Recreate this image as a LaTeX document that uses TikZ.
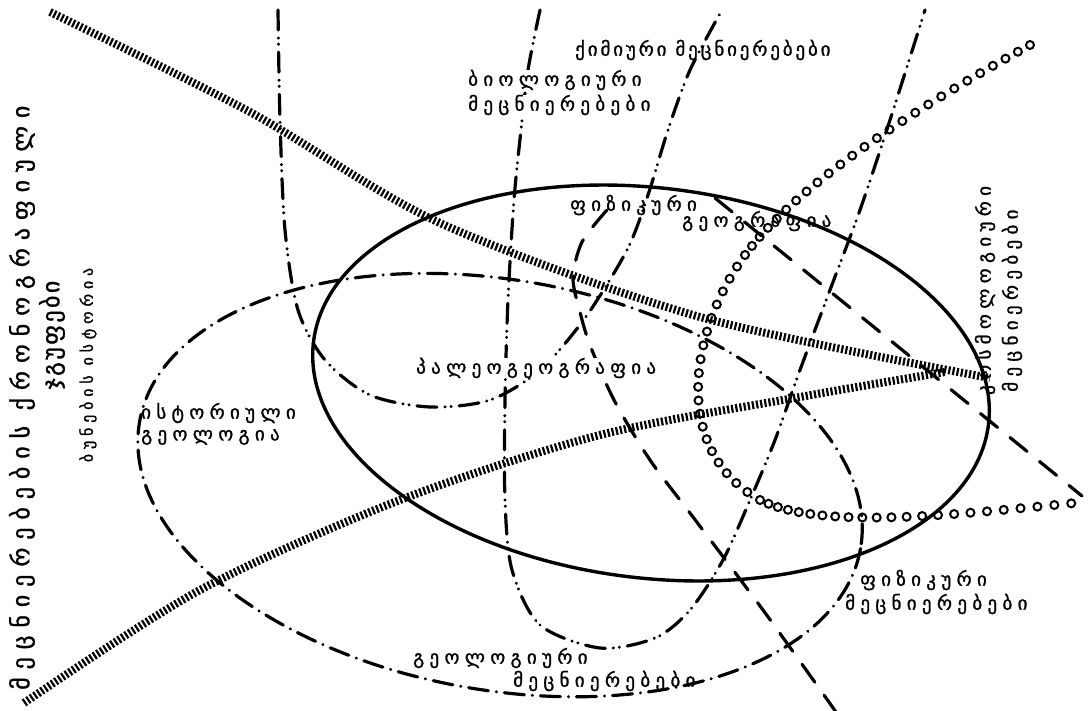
\documentclass[tikz,border=0pt]{standalone}
\usepackage{fontspec}
\newfontfamily\geo[LetterSpace=28,FakeBold=1.2]{DejaVu Sans}
\newfontfamily\geochem[LetterSpace=15,FakeBold=1.2]{DejaVu Sans}
\newfontfamily\geosmall[LetterSpace=30,FakeBold=1.2]{DejaVu Sans}
\newfontfamily\geobig[LetterSpace=33,FakeBold=1.2]{DejaVu Sans}
\newfontfamily\geotight[LetterSpace=10,FakeBold=1.2]{DejaVu Sans}
\tikzset{
  lbl/.style={font=\geo\fontsize{19}{21}\selectfont, inner sep=0pt, anchor=west},
  solidline/.style={line width=3.4pt},
  dashdot/.style={line width=3.2pt, line cap=round, dash pattern=on 20pt off 8pt on 0.1pt off 8pt},
  dashdotdot/.style={line width=3.2pt, line cap=round, dash pattern=on 20pt off 8pt on 0.1pt off 6pt on 0.1pt off 8pt},
  longdash/.style={line width=3.2pt, line cap=round, dash pattern=on 22pt off 16pt},
  rope/.style={line width=8pt, dash pattern=on 2.2pt off 2pt},
  circ/.style={circle, draw, line width=2pt, minimum size=8pt, inner sep=0pt}
}
\begin{document}
\begin{tikzpicture}[x=1pt,y=-1pt]
\useasboundingbox (0,0) rectangle (1088,711);
\fill[white] (0,0) rectangle (1088,711);
% ellipses
\coordinate (cg) at (651,383);
\draw[solidline, rotate around={-7:(cg)}] (cg) ellipse [x radius=340, y radius=195];
\coordinate (cgeo) at (500,485);
\draw[dashdot, rotate around={-10:(cgeo)}] (cgeo) ellipse [x radius=366, y radius=205];
% rope lines
\draw[rope] plot[smooth] coordinates {(50,12) (250,112) (440,223) (700,317) (990,378)};
\draw[rope] plot[smooth] coordinates {(24,703) (200,590) (400,500) (600,435) (800,397) (945,372)};
% circle line
\coordinate (c0) at (1030,45);
\coordinate (c1) at (745,255);
\coordinate (c2) at (760,500);
\coordinate (c3) at (1075,503);
\path (c0) .. controls (930,100) and (800,180) .. (c1)
  \foreach \p in {0,0.04,...,0.97} {node[circ,pos=\p]{}};
\path (c1) .. controls (690,330) and (670,450) .. (c2)
  \foreach \p in {0,0.05,...,0.97} {node[circ,pos=\p]{}};
\path (c2) .. controls (820,530) and (950,515) .. (c3)
  \foreach \p in {0,0.045,...,1.01} {node[circ,pos=\p]{}};
% biological U
\draw[dashdotdot] plot[smooth] coordinates {(278,10) (280,120) (285,230) (298,310) (325,360) (370,395) (430,407) (490,400) (540,370) (585,318) (627,250) (648,195) (668,130) (690,70) (722,10)};
% chemical U
\draw[dashdotdot] plot[smooth] coordinates {(540,10) (528,70) (521,130) (514,200) (508,300) (505,400) (505,500) (512,570) (540,625) (600,648) (655,638) (690,610) (723,560) (750,500) (775,440) (800,370) (830,290) (860,210) (890,120) (925,10)};
% physical dashed
\coordinate (pa) at (715,198);
\coordinate (pb) at (1082,496);
\draw[longdash] (pa) -- (pb);
\draw[longdash] plot[smooth] coordinates {(607,210) (582,242) (573,278) (580,312) (590,345) (614,400) (650,460) (693,517) (763,610) (836,712)};
% labels
\node[lbl, font=\geochem\fontsize{19}{21}\selectfont] (chem) at (575,50) {ქიმიური მეცნიერებები};
\node[lbl, fill=white] (bio1) at (468,80) {ბიოლოგიური};
\node[lbl, fill=white] (bio2) at (468,105) {მეცნიერებები};
\node[lbl] (fg1) at (570,205) {ფიზიკური};
\node[lbl] (fg2) at (682,221) {გეოგრაფია};
\node[lbl, fill=white] (pal) at (416,368) {პალეოგეოგრაფია};
\node[lbl] (ist1) at (141,413) {ისტორიული};
\node[lbl] (ist2) at (141,437) {გეოლოგია};
\node[lbl] (phys1) at (860,580) {ფიზიკური};
\node[lbl] (phys2) at (845,604) {მეცნიერებები};
\node[lbl] (geol1) at (413,658) {გეოლოგიური};
\node[lbl] (geol2) at (513,681) {მეცნიერებები};
\node[lbl, rotate=90] (cos1) at (985,395) {კოსმოლოგიური};
\node[lbl, rotate=90] (cos2) at (1012,392) {მეცნიერებები};
\node[font=\geobig\fontsize{24}{26}\selectfont, inner sep=0pt, anchor=west, rotate=90] (main) at (22,690) {მეცნიერებების ქრონოგრაფიული};
\node[font=\geotight\fontsize{24}{26}\selectfont, inner sep=0pt, rotate=90] (grp) at (52,335) {ჯგუფები};
\node[font=\geosmall\fontsize{16}{18}\selectfont, inner sep=0pt, rotate=90] (nat) at (88,365) {ბუნების ისტორია};
\end{tikzpicture}
\end{document}
